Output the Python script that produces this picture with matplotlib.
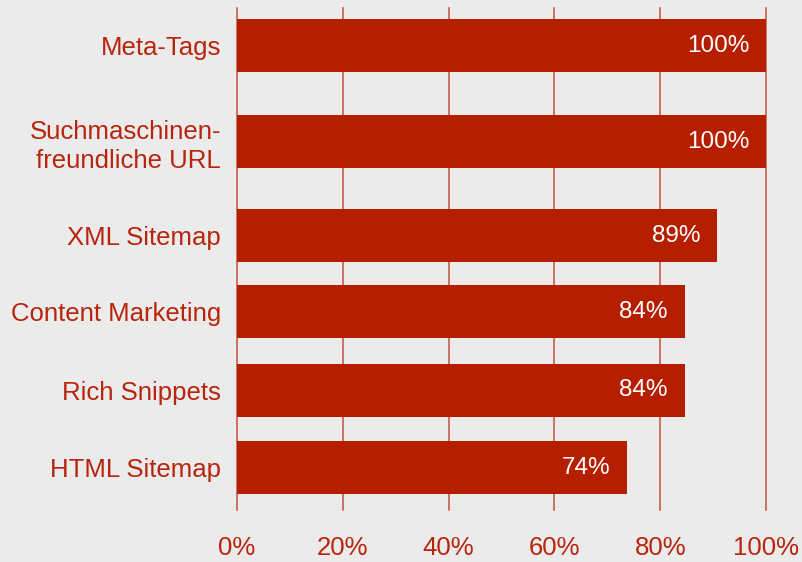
import matplotlib
matplotlib.use("Agg")
import matplotlib.pyplot as plt

###################################
# Data

categories = ["Meta-Tags", "Suchmaschinen-\nfreundliche URL", "XML Sitemap",
              "Content Marketing", "Rich Snippets", "HTML Sitemap"]
bar_lengths = [100, 100, 90.8, 84.6, 84.6, 73.7]
value_labels = ["100%", "100%", "89%", "84%", "84%", "74%"]
x_ticks = [0, 20, 40, 60, 80, 100]

###################################
# Layout / style

# row centres in pixel units from the top (rows are not evenly spaced)
row_pos = [45.5, 141.5, 235.5, 311.5, 390.5, 467.5]
bar_height = 53

RED = "#b61e00"
TEXT_RED = "#b8240c"
GRID_RED = "#c2523f"
BG = "#ebebeb"
FS = 18.5

plt.rcParams['font.family'] = ['Liberation Sans', 'DejaVu Sans']

fig = plt.figure(figsize=(8.03, 5.62), dpi=100, facecolor=BG)
ax = fig.add_axes([237 / 803, 52 / 562, 529 / 803, 502 / 562])
ax.set_facecolor(BG)

for x in x_ticks:
    ax.axvline(x, color=GRID_RED, linewidth=1.1, zorder=1, clip_on=False)

ax.barh(row_pos, bar_lengths, height=bar_height, color=RED, zorder=2)

for y, length, lab in zip(row_pos, bar_lengths, value_labels):
    ax.annotate(lab, xy=(length, y), xytext=(-12, 0), textcoords='offset points',
                ha='right', va='center', color='white', fontsize=17.5, zorder=3)

ax.set_xlim(0, 100)
ax.set_ylim(510, 8)

ax.set_yticks(row_pos)
ax.set_yticklabels(categories, color=TEXT_RED, fontsize=FS, linespacing=1.25)
ax.set_xticks(x_ticks)
ax.set_xticklabels(["{}%".format(x) for x in x_ticks], color=TEXT_RED, fontsize=FS)
ax.tick_params(axis='y', length=0, pad=11.5)
ax.tick_params(axis='x', length=0, pad=19)

for spine in ax.spines.values():
    spine.set_visible(False)

fig.savefig("out.png", dpi=100, facecolor=BG)
